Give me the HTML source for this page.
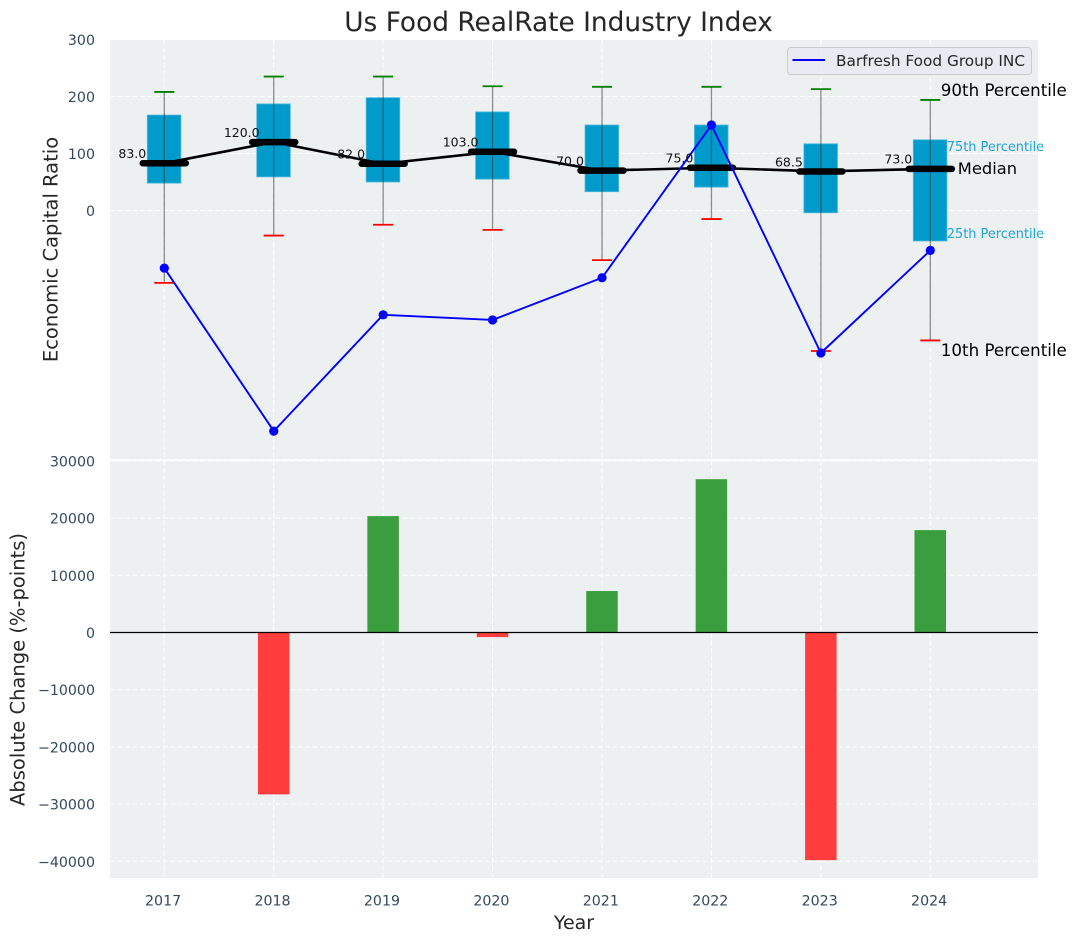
<!DOCTYPE html>
<html lang="en">
<head>
<meta charset="utf-8">
<title>Us Food RealRate Industry Index</title>
<style>
html,body{margin:0;padding:0;background:#fff;width:1076px;height:942px;overflow:hidden}
svg{display:block;font-family:"DejaVu Sans","Liberation Sans",sans-serif}
</style>
</head>
<body>
<svg id="chart" width="1076" height="942" viewBox="0 0 1076 942" xmlns="http://www.w3.org/2000/svg">
  <rect x="110" y="40" width="928" height="419.5" fill="#ecf0f1"/>
  <rect x="110" y="460.5" width="928" height="417.5" fill="#ecf0f1"/>
  <g id="grid"></g>
  <g id="bars"></g>
  <g id="boxes"></g>
  <g id="lines"></g>
  <g id="labels"></g>
  <g id="ticks" font-size="14.2" fill="#34495e"></g>
  <text x="558.5" y="31" text-anchor="middle" font-size="26.4" fill="#262626">Us Food RealRate Industry Index</text>
  <text transform="translate(57.5,249.5) rotate(-90)" text-anchor="middle" font-size="19.5" fill="#262626">Economic Capital Ratio</text>
  <text transform="translate(24.5,669.5) rotate(-90)" text-anchor="middle" font-size="19.5" fill="#262626">Absolute Change (%-points)</text>
  <text x="574" y="929" text-anchor="middle" font-size="19" fill="#262626">Year</text>
  <g>
    <rect x="787.5" y="47.5" width="244" height="27" rx="3" fill="#eaeaf2" fill-opacity="0.85" stroke="#cccccc" stroke-width="1"/>
    <line x1="792.5" x2="825" y1="60" y2="60" stroke="#0000ff" stroke-width="2"/>
    <text x="836" y="66" font-size="15.3" fill="#262626">Barfresh Food Group INC</text>
  </g>
</svg>
<script>
var years = [2017, 2018, 2019, 2020, 2021, 2022, 2023, 2024];
var p10 = [-127, -44, -25, -34, -87, -15, -246.5, -228];
var p25 = [48, 59, 50, 55, 33, 41, -4, -53.5];
var p50 = [83, 120, 82, 103, 70, 75, 68.5, 73];
var p75 = [167.5, 187, 198, 173, 150, 150, 117, 124];
var p90 = [208, 235, 235, 218, 217, 217, 213, 194];
var company = [-101, -387, -183, -192, -118, 150, -250, -70];
var changes = [0, -28300, 20350, -800, 7250, 26800, -39800, 17900];
var topTicks = [300, 200, 100, 0];
var bottomTicks = [30000, 20000, 10000, 0, -10000, -20000, -30000, -40000];

var NS = 'http://www.w3.org/2000/svg';
function xs(v) { return 164.3 + (v - 2017) * 109.43; }
function yTop(v) { return 210.5 - v * 0.57; }
function yBot(v) { return 632.5 - v * 0.00572; }
function mk(parent, tag, attrs, text) {
  var el = document.createElementNS(NS, tag);
  for (var k in attrs) { el.setAttribute(k, attrs[k]); }
  if (text !== undefined) { el.textContent = text; }
  parent.appendChild(el);
  return el;
}
var grid = document.getElementById('grid');
var bars = document.getElementById('bars');
var boxes = document.getElementById('boxes');
var lines = document.getElementById('lines');
var labels = document.getElementById('labels');
var ticks = document.getElementById('ticks');
var dash = '5,2.5';
var el;

years.forEach(function (yr) {
  el = mk(grid, 'line', {x1: xs(yr), x2: xs(yr), y1: 40, y2: 459.5, stroke: '#fff', 'stroke-width': 1, 'stroke-dasharray': dash});
  
  
  el = mk(grid, 'line', {x1: xs(yr), x2: xs(yr), y1: 460.5, y2: 878, stroke: '#fff', 'stroke-width': 1, 'stroke-dasharray': dash});
  
  
  el = mk(ticks, 'text', {x: xs(yr) - 1.2, y: 905.5, 'text-anchor': 'middle'}, String(yr));
  
  
});
topTicks.forEach(function (t) {
  el = mk(grid, 'line', {x1: 110, x2: 1038, y1: yTop(t), y2: yTop(t), stroke: '#fff', 'stroke-width': 1, 'stroke-dasharray': dash});
  
  
  el = mk(ticks, 'text', {x: 95, y: yTop(t) + 5.5, 'text-anchor': 'end'}, String(t));
  
  
});
bottomTicks.forEach(function (t) {
  el = mk(grid, 'line', {x1: 110, x2: 1038, y1: yBot(t), y2: yBot(t), stroke: '#fff', 'stroke-width': 1, 'stroke-dasharray': dash});
  
  
  el = mk(ticks, 'text', {x: 95, y: yBot(t) + 5.5, 'text-anchor': 'end'}, String(t).replace('-', '\u2212'));
  
  
});

el = mk(grid, 'line', {x1: 110, x2: 1038, y1: 460, y2: 460, stroke: '#fff', 'stroke-width': 1.5});



years.forEach(function (yr, i) {
  var c = changes[i];
  if (c === 0) { return; }
  var top = Math.min(yBot(c), yBot(0));
  el = mk(bars, 'rect', {x: xs(yr) - 15.8, y: top, width: 31.5, height: Math.abs(yBot(c) - yBot(0)), fill: c > 0 ? '#3a9e3f' : '#ff3d3d'});
  
  
});
el = mk(bars, 'line', {x1: 110, x2: 1038, y1: yBot(0), y2: yBot(0), stroke: '#000', 'stroke-width': 1.3});



years.forEach(function (yr, i) {
  var x = xs(yr);
  el = mk(boxes, 'rect', {x: x - 17, y: yTop(p75[i]), width: 33.6, height: yTop(p25[i]) - yTop(p75[i]), fill: '#019bcb', stroke: '#4fb9dc', 'stroke-width': 0.8});
  
  
  el = mk(boxes, 'line', {x1: x, x2: x, y1: yTop(p90[i]), y2: yTop(p10[i]), stroke: '#333', 'stroke-opacity': 0.55, 'stroke-width': 1.3});
  
  
  el = mk(boxes, 'line', {x1: x - 10, x2: x + 10, y1: yTop(p90[i]), y2: yTop(p90[i]), stroke: '#008000', 'stroke-width': 1.8});
  
  
  el = mk(boxes, 'line', {x1: x - 10, x2: x + 10, y1: yTop(p10[i]), y2: yTop(p10[i]), stroke: '#ff0000', 'stroke-width': 1.8});
  
  
});

el = mk(lines, 'polyline', {points: years.map(function (yr, i) { return xs(yr) + ',' + yTop(p50[i]); }).join(' '), fill: 'none', stroke: '#000', 'stroke-width': 2.6, 'stroke-linejoin': 'round'});


years.forEach(function (yr, i) {
  el = mk(lines, 'line', {x1: xs(yr) - 21.5, x2: xs(yr) + 21.5, y1: yTop(p50[i]), y2: yTop(p50[i]), stroke: '#000', 'stroke-width': 6.5, 'stroke-linecap': 'round'});
  
  
  el = mk(labels, 'text', {x: xs(yr) - 32, y: yTop(p50[i]) - 5.2, 'text-anchor': 'middle', 'font-size': 12.5, fill: '#111'}, p50[i].toFixed(1));
  
  
});
el = mk(lines, 'polyline', {points: years.map(function (yr, i) { return xs(yr) + ',' + yTop(company[i]); }).join(' '), fill: 'none', stroke: '#0000ff', 'stroke-width': 1.9, 'stroke-linejoin': 'round'});


years.forEach(function (yr, i) {
  el = mk(lines, 'circle', {cx: xs(yr), cy: yTop(company[i]), r: 4.6, fill: '#0000ff'});
  
  
});

var last = years.length - 1;
var lastX = xs(years[last]);
el = mk(labels, 'text', {x: lastX + 10.5, y: yTop(p90[last]) - 4, 'font-size': 16.7, fill: '#000'}, '90th Percentile');


el = mk(labels, 'text', {x: lastX + 27.5, y: yTop(p50[last]) + 5, 'font-size': 16.3, fill: '#000'}, 'Median');


el = mk(labels, 'text', {x: lastX + 10.5, y: yTop(p10[last]) + 15.5, 'font-size': 16.7, fill: '#000'}, '10th Percentile');


el = mk(labels, 'text', {x: lastX + 16.5, y: yTop(p75[last]) + 11, 'font-size': 12.9, fill: '#1ea5d0'}, '75th Percentile');


el = mk(labels, 'text', {x: lastX + 16.5, y: yTop(p25[last]) - 3, 'font-size': 12.9, fill: '#1ea5d0'}, '25th Percentile');


</script>
</body>
</html>
